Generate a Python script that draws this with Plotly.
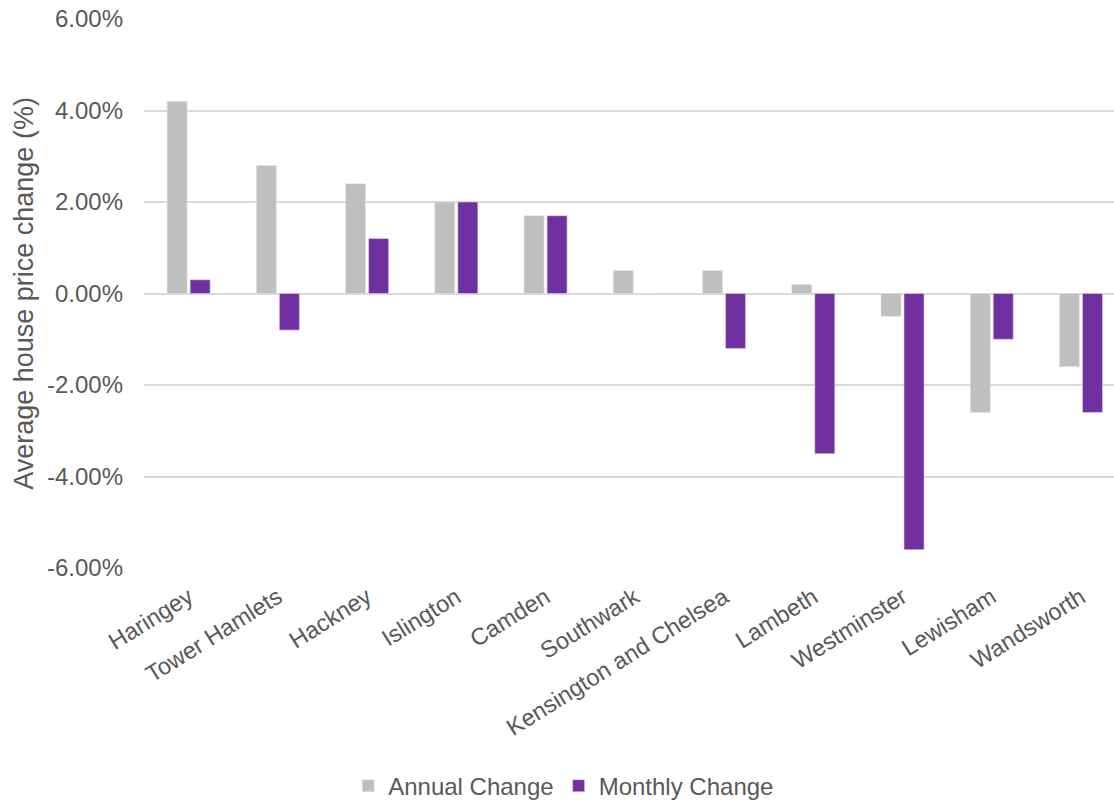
import plotly.graph_objects as go

boroughs = ["Haringey", "Tower Hamlets", "Hackney", "Islington", "Camden", "Southwark",
            "Kensington and Chelsea", "Lambeth", "Westminster", "Lewisham", "Wandsworth"]
annual_change = [4.2, 2.8, 2.4, 2.0, 1.7, 0.5, 0.5, 0.2, -0.5, -2.6, -1.6]
monthly_change = [0.3, -0.8, 1.2, 2.0, 1.7, 0.0, -1.2, -3.5, -5.6, -1.0, -2.6]
y_ticks = [-6, -4, -2, 0, 2, 4, 6]
y_tick_labels = [f"{v:.2f}%" for v in y_ticks]

font_family = "Liberation Sans, Arial, sans-serif"
text_color = "#595959"
grid_color = "#D9D9D9"

fig = go.Figure()
fig.add_trace(go.Bar(name="Annual Change", x=boroughs, y=annual_change,
                     marker=dict(color="#BFBFBF", line=dict(color="#E6E6E6", width=0.6))))
fig.add_trace(go.Bar(name="Monthly Change", x=boroughs, y=monthly_change,
                     marker=dict(color="#7030A0", line=dict(color="#E3D3EE", width=0.6))))

fig.update_layout(
    width=1114, height=803,
    margin=dict(l=144, r=0, t=19, b=235),
    paper_bgcolor="white", plot_bgcolor="white",
    barmode="group", bargap=0.484, bargroupgap=0.13,
    font=dict(family=font_family, size=24, color=text_color),
    showlegend=True,
    legend=dict(orientation="h", xref="container", yref="container",
                x=0.506, xanchor="center", y=0.021, yanchor="middle",
                font=dict(size=24, color=text_color), itemwidth=30,
                traceorder="normal"),
)
# the category axis runs a little past the right edge of the page
fig.update_xaxes(range=[-0.5, 10.37], tickangle=-32, showgrid=False, showline=False, ticks="",
                 ticklabelstandoff=10, tickfont=dict(size=23.5, color=text_color))
fig.update_yaxes(range=[-6, 6], tickvals=y_ticks, ticktext=y_tick_labels,
                 showgrid=True, gridcolor=grid_color, gridwidth=1.5,
                 zeroline=True, zerolinecolor=grid_color, zerolinewidth=1.5,
                 showline=False, ticks="", ticklabelstandoff=20,
                 tickfont=dict(size=24, color=text_color),
                 title=dict(text="Average house price change (%)",
                            font=dict(size=27, color=text_color), standoff=5))

fig.write_html("out.html")
